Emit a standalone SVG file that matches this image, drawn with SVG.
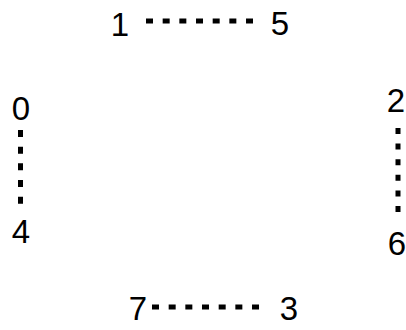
<svg xmlns="http://www.w3.org/2000/svg" width="406" height="330" viewBox="0 0 406 330">
<style>
text{font-family:"Liberation Sans",Arial,sans-serif;font-size:33px;fill:#000;text-anchor:middle}
.e{stroke:#000;stroke-width:5;stroke-dasharray:7 9.67;fill:none}
</style>
<rect width="406" height="330" fill="#fff"/>
<g id="edges">
<line class="e" x1="146" y1="21" x2="253" y2="21"/>
<line class="e" x1="20.5" y1="130" x2="20.5" y2="204"/>
<line class="e" x1="398" y1="128" x2="398" y2="212" style="stroke-dasharray:6 9.6"/>
<line class="e" x1="152" y1="307" x2="262" y2="307"/>
</g>
<g id="n1"><text x="120" y="36">1</text></g>
<g id="n5"><text x="280" y="35">5</text></g>
<g id="n0"><text x="21" y="120">0</text></g>
<g id="n4"><text x="21" y="243">4</text></g>
<g id="n2"><text x="396" y="112">2</text></g>
<g id="n6"><text x="397" y="255">6</text></g>
<g id="n7"><text x="138" y="320">7</text></g>
<g id="n3"><text x="289" y="320">3</text></g>
</svg>
